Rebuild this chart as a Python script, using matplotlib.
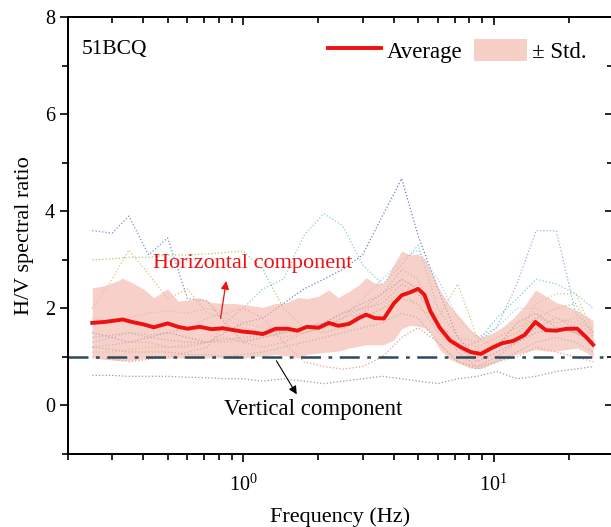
import matplotlib
matplotlib.use('Agg')
import matplotlib.pyplot as plt
from matplotlib.ticker import MultipleLocator, LogLocator, NullFormatter
from matplotlib.patches import Patch
from matplotlib.lines import Line2D

plt.rcParams['font.family'] = ['Liberation Serif', 'DejaVu Serif']
plt.rcParams['mathtext.fontset'] = 'stix'

# 平均值及标准差范围
freq = [0.25, 0.28, 0.31, 0.33, 0.36, 0.40, 0.44, 0.50, 0.55, 0.60, 0.67, 0.75, 0.83,
        0.92, 1.0, 1.1, 1.2, 1.35, 1.5, 1.65, 1.8, 2.0, 2.2, 2.4, 2.65, 2.9, 3.1, 3.35,
        3.65, 4.0, 4.3, 4.65, 5.0, 5.3, 5.6, 6.1, 6.7, 7.4, 8.1, 8.9, 9.8, 10.8, 12.0,
        13.3, 14.7, 16.2, 17.8, 19.6, 21.6, 23.3, 25.0]
avg = [1.70, 1.72, 1.75, 1.77, 1.72, 1.67, 1.61, 1.69, 1.62, 1.58, 1.62, 1.57, 1.59,
       1.55, 1.52, 1.50, 1.47, 1.58, 1.58, 1.54, 1.62, 1.60, 1.70, 1.64, 1.68, 1.80, 1.87,
       1.80, 1.79, 2.10, 2.27, 2.33, 2.40, 2.28, 1.94, 1.60, 1.34, 1.20, 1.10, 1.06, 1.18,
       1.28, 1.33, 1.45, 1.72, 1.55, 1.54, 1.58, 1.58, 1.42, 1.25]
upper = [2.42, 2.47, 2.55, 2.62, 2.53, 2.40, 2.22, 2.40, 2.15, 2.17, 2.22, 2.12, 2.10,
         2.10, 2.08, 2.05, 2.02, 2.10, 2.12, 2.22, 2.20, 2.25, 2.38, 2.22, 2.35, 2.48, 2.63,
         2.52, 2.52, 2.90, 3.18, 3.10, 3.12, 3.02, 2.80, 2.38, 2.05, 1.80, 1.55, 1.40, 1.48,
         1.60, 1.80, 2.05, 2.38, 2.25, 2.12, 2.05, 1.95, 1.85, 1.75]
lower = [0.98, 0.95, 0.93, 0.92, 0.93, 0.96, 0.98, 0.97, 0.98, 0.97, 0.97, 0.98, 0.98,
         0.98, 0.97, 1.00, 1.02, 1.05, 1.02, 0.98, 1.05, 1.08, 1.10, 1.12, 1.18, 1.22, 1.25,
         1.25, 1.25, 1.35, 1.58, 1.65, 1.63, 1.60, 1.50, 1.15, 0.95, 0.85, 0.77, 0.75, 0.85,
         0.95, 1.03, 1.10, 1.15, 1.12, 1.12, 1.15, 1.18, 1.10, 1.00]

# 各测点单独曲线
freq_s = [0.25, 0.30, 0.35, 0.42, 0.50, 0.60, 0.72, 0.85, 1.0, 1.2, 1.45, 1.75, 2.1,
          2.5, 3.0, 3.6, 4.3, 5.0, 6.0, 7.2, 8.6, 10.3, 12.4, 14.8, 17.8, 21.3, 25.0]
curves = {
    '#5b7fc4': [3.6, 3.55, 3.9, 3.1, 3.45, 2.2, 2.15, 1.7, 1.3, 1.4, 1.5, 1.6, 1.7,
                1.9, 2.1, 2.3, 2.6, 2.4, 1.6, 1.2, 0.9, 1.1, 1.3, 1.5, 1.6, 1.5, 1.3],
    '#8fc46a': [3.0, 3.02, 3.05, 3.05, 3.1, 3.1, 3.12, 3.15, 3.18, 2.8, 2.0, 1.6, 1.5,
                1.6, 1.8, 2.0, 2.2, 2.1, 1.5, 1.2, 1.1, 1.3, 1.5, 1.8, 2.0, 2.1, 1.4],
    '#e8b060': [2.0, 2.6, 3.2, 2.7, 2.2, 2.4, 1.9, 1.8, 1.6, 1.5, 1.4, 1.5, 1.6,
                1.8, 1.9, 2.2, 2.6, 2.4, 1.7, 1.3, 1.2, 1.4, 1.6, 1.8, 1.7, 1.8, 1.4],
    '#8a8a8a': [0.62, 0.62, 0.6, 0.6, 0.6, 0.58, 0.57, 0.55, 0.55, 0.5, 0.55, 0.5, 0.45,
                0.5, 0.55, 0.6, 0.55, 0.5, 0.45, 0.55, 0.6, 0.7, 0.55, 0.6, 0.7, 0.75, 0.8],
    '#6cc6d6': [1.3, 1.4, 1.5, 1.45, 1.5, 1.6, 1.8, 1.9, 2.0, 2.4, 2.6, 3.5, 3.95,
                3.7, 2.9, 2.5, 2.9, 3.3, 2.0, 1.4, 1.3, 1.8, 2.2, 2.6, 2.5, 2.3, 2.0],
    '#4a6fb8': [1.5, 1.4, 1.3, 1.4, 1.5, 1.4, 1.3, 1.5, 1.7, 1.8, 2.1, 2.4, 2.6,
                2.8, 3.1, 3.9, 4.67, 3.5, 2.4, 1.4, 1.0, 1.2, 1.7, 1.9, 1.6, 1.5, 1.3],
    '#7fa8d8': [1.2, 1.25, 1.3, 1.3, 1.2, 1.2, 1.3, 1.4, 1.3, 1.2, 1.3, 1.5, 1.6,
                1.8, 2.0, 2.3, 2.8, 2.6, 1.6, 1.2, 1.3, 1.6, 2.5, 3.6, 3.6, 1.9, 1.5],
    '#e88a80': [1.0, 0.95, 0.9, 0.95, 1.0, 1.1, 1.2, 1.7, 2.0, 1.8, 1.3, 0.9, 0.8,
                0.75, 0.8, 1.0, 1.4, 1.6, 1.3, 0.9, 0.8, 0.9, 1.0, 1.2, 1.1, 1.0, 0.9],
    '#9a80c0': [1.4, 1.45, 1.5, 1.4, 1.35, 1.3, 1.3, 1.35, 1.4, 1.45, 1.55, 1.6, 1.7,
                1.9, 2.0, 2.1, 2.5, 2.3, 1.7, 1.1, 0.8, 1.0, 1.3, 1.6, 1.8, 1.6, 1.3],
    '#c0c860': [1.1, 1.1, 1.15, 1.2, 1.2, 1.25, 1.3, 1.3, 1.35, 1.4, 1.5, 1.5, 1.6,
                1.7, 1.8, 2.0, 2.4, 2.0, 1.8, 2.5, 1.4, 1.2, 1.4, 2.1, 2.3, 2.3, 1.5],
    '#60b0a0': [1.2, 1.15, 1.1, 1.1, 1.1, 1.05, 1.05, 1.0, 1.05, 1.1, 1.2, 1.3, 1.4,
                1.5, 1.6, 1.7, 1.9, 1.8, 1.3, 0.9, 0.75, 0.9, 1.1, 1.3, 1.4, 1.3, 1.1],
    '#a0c8e8': [1.8, 1.75, 1.8, 1.9, 1.95, 1.9, 2.0, 1.9, 1.7, 1.6, 1.5, 1.6, 1.7,
                1.8, 2.2, 2.6, 3.0, 3.2, 2.6, 1.8, 1.4, 1.6, 2.0, 2.0, 1.8, 1.7, 1.6],
}

fig = plt.figure(figsize=(6.11, 5.27), dpi=100)
ax = fig.add_axes([68 / 611, 73 / 527, 545 / 611, 437 / 527])

for c, vals in curves.items():
    ax.plot(freq_s, vals, ls=':', lw=0.9, color=c, alpha=0.85, zorder=2)

ax.fill_between(freq, lower, upper, color='#f2b3a6', alpha=0.6, lw=0, zorder=3)
ax.plot(freq, avg, color='#ee1111', lw=2.8, zorder=5)
ax.axhline(1.0, color='#2e4a58', lw=1.8, ls=(0, (8, 3, 1.5, 3)), zorder=4)

ax.set_xscale('log')
ax.set_xlim(0.2, 30)
ax.set_ylim(-1, 8)
ax.yaxis.set_major_locator(MultipleLocator(2))
ax.yaxis.set_minor_locator(MultipleLocator(1))
ax.xaxis.set_minor_locator(LogLocator(subs=range(2, 10)))
ax.xaxis.set_minor_formatter(NullFormatter())

ax.tick_params(which='both', direction='out', labelsize=14.5, width=1.2)
ax.tick_params(which='major', length=6)
ax.tick_params(which='minor', length=4)
ax.tick_params(axis='x', which='major', pad=9)
for sp in ax.spines.values():
    sp.set_linewidth(1.3)

# 上、右侧刻度朝内
ax_top = ax.twiny()
ax_top.set_xscale('log')
ax_top.set_xlim(ax.get_xlim())
ax_top.xaxis.set_minor_locator(LogLocator(subs=range(2, 10)))
ax_top.tick_params(which='both', direction='in', labeltop=False, width=1.2)
ax_top.tick_params(which='major', length=6)
ax_top.tick_params(which='minor', length=4)
ax_right = ax.twinx()
ax_right.set_ylim(ax.get_ylim())
ax_right.yaxis.set_major_locator(MultipleLocator(2))
ax_right.yaxis.set_minor_locator(MultipleLocator(1))
ax_right.tick_params(which='both', direction='in', labelright=False, width=1.2)
ax_right.tick_params(which='major', length=6)
ax_right.tick_params(which='minor', length=4)
for a in (ax, ax_top, ax_right):
    for sp in a.spines.values():
        sp.set_linewidth(1.3)
    a.spines['right'].set_visible(False)

ax.set_xlabel('Frequency (Hz)', fontsize=16, labelpad=8)
ax.set_ylabel('H/V spectral ratio', fontsize=16, labelpad=8)

ax.text(0.026, 0.925, '51BCQ', transform=ax.transAxes, fontsize=15.5, va='center', ha='left')

ax.annotate('', xy=(0.86, 2.62), xytext=(0.81, 1.74),
            arrowprops=dict(arrowstyle='-|>', color='#ee1111', lw=0.9, mutation_scale=12), zorder=6)
ax.text(1.09, 2.93, 'Horizontal component', color='#ee1111', fontsize=16, ha='center', va='center', zorder=6)

ax.annotate('', xy=(1.66, 0.18), xytext=(1.34, 0.97),
            arrowprops=dict(arrowstyle='-|>', color='black', lw=0.8, mutation_scale=12), zorder=6)
ax.text(1.9, -0.08, 'Vertical component', fontsize=16.5, ha='center', va='center', zorder=6)

handles = [Line2D([], [], color='#ee1111', lw=2.8),
           Patch(facecolor='#f6cfc7', edgecolor='none')]
ax.legend(handles, ['Average', '± Std.'], ncol=2, frameon=False, fontsize=16.5,
          loc='center right', bbox_to_anchor=(587 / 611, 1 - 51 / 527),
          bbox_transform=fig.transFigure, borderpad=0, borderaxespad=0,
          handlelength=2.3, handleheight=1.1, handletextpad=0.25, columnspacing=0.5)

fig.savefig('out.png', dpi=100)
